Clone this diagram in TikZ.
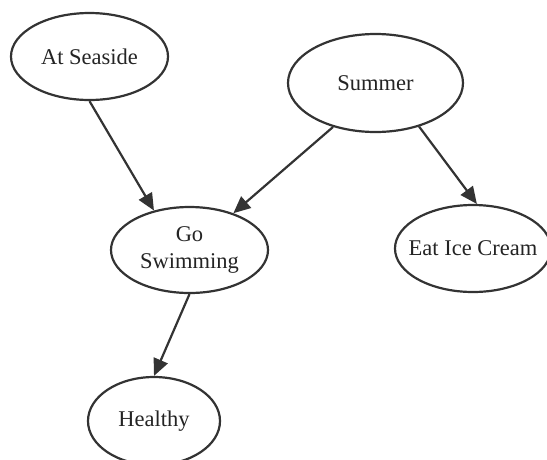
\documentclass[tikz,border=0pt]{standalone}
\usepackage{fontspec}
\setmainfont{Liberation Serif}
\usepackage{xcolor}
\usepackage{tikz}
\usetikzlibrary{shapes.geometric, arrows.meta, positioning}

\definecolor{inkgray}{HTML}{333333}

\begin{document}
\begin{tikzpicture}[
    x=1pt, y=-1pt,
    state/.style={draw=inkgray, ellipse, line width=2.2pt, inner sep=0pt, align=center,
        text=inkgray!70!black, font=\fontsize{22.5}{27.5}\selectfont},
    link/.style={-{Triangle[length=17pt,width=15pt]}, draw=inkgray, line width=2.2pt}
]
    \useasboundingbox (0,0) rectangle (547,459);
    % causes and effects
    \node[state, minimum width=157pt, minimum height=87pt] at (89.5,56.5) (seaside) {At Seaside};
    \node[state, minimum width=175pt, minimum height=98pt] at (375.5,83) (summer) {Summer};
    \node[state, minimum width=157pt, minimum height=86pt] at (189.5,250) (swim) {Go\\Swimming};
    \node[state, minimum width=156pt, minimum height=87pt, inner xsep=-12pt] at (473,248.5) (icecream) {Eat Ice Cream};
    \node[state, minimum width=132pt, minimum height=88pt] at (154,421) (healthy) {Healthy};
    \draw[link] (seaside.south) -- (swim.132);
    \draw[link] (summer.226) -- (swim.40);
    \draw[link] (summer.315) -- (icecream.85);
    \draw[link] (swim.south) -- (healthy.north);
\end{tikzpicture}
\end{document}
